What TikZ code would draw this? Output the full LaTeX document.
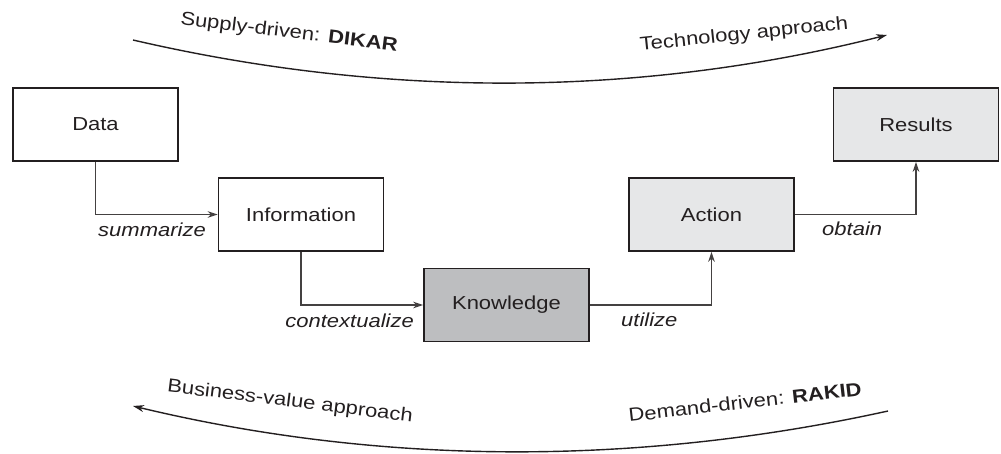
\documentclass[tikz,border=0pt]{standalone}
\usepackage{fontspec}
\setmainfont{Liberation Sans}[FakeStretch=1.17]
\usetikzlibrary{arrows.meta}
\definecolor{ink}{HTML}{231F20}
\definecolor{kgray}{HTML}{BDBEC0}
\definecolor{lgray}{HTML}{E6E7E8}
\tikzset{
  box/.style={draw=ink, line width=1.5pt, minimum width=165pt, minimum height=73pt, inner sep=0pt, text=ink, font=\fontsize{18.8}{22}\selectfont},
  conn/.style={draw=ink!85, line width=1.4pt, -{Stealth[length=10pt,width=6.5pt]}},
  lbl/.style={text=ink, inner sep=0pt, font=\fontsize{18.8}{22}\selectfont\itshape},
  arclbl/.style={text=ink, inner sep=0pt, font=\fontsize{18.8}{22}\selectfont},
  arc/.style={draw=ink, line width=1.4pt},
}
\begin{document}
\begin{tikzpicture}[x=1pt,y=-1pt]
\useasboundingbox (0,0) rectangle (1001,453);
% boxes
\node[box] (data) at (95.5,124.5) {Data};
\node[box] (info) at (301,214.5) {Information};
\node[box, fill=kgray] (know) at (506.5,305) {Knowledge};
\node[box, fill=lgray] (act) at (711.5,214.5) {Action};
\node[box, fill=lgray] (res) at (916,124.5) {Results};
% connectors
\draw[conn] (data.south) |- (info.west);
\draw[conn] (info.south) |- (know.west);
\draw[conn] (know.east) -| (act.south);
\draw[conn] (act.east) -| (res.south);
% connector labels
\node[lbl, anchor=east] (l1) at (206,230) {summarize};
\node[lbl, anchor=east] (l2) at (414,321) {contextualize};
\node[lbl, anchor=west] (l3) at (621,320) {utilize};
\node[lbl, anchor=west] (l4) at (822,229) {obtain};
% top arc
\coordinate (ta) at (133,40);
\coordinate (tb) at (887,35);
\draw[arc, -{Stealth[length=11pt,width=7pt]}] (ta) .. controls (383,98) and (637,98) .. (tb);
% bottom arc
\coordinate (ba) at (888,411);
\coordinate (bb) at (133,406);
\draw[arc, -{Stealth[length=11pt,width=7pt]}] (ba) .. controls (638,466) and (383,466) .. (bb);
% arc labels
\node[arclbl, rotate=-7] (sd) at (289,33) {Supply-driven: \textbf{DIKAR}};
\node[arclbl, rotate=6] (ta2) at (744,35) {Technology approach};
\node[arclbl, rotate=-7] (bv) at (290,402) {Business-value approach};
\node[arclbl, rotate=6.5] (dd) at (745,402) {Demand-driven: \textbf{RAKID}};
\end{tikzpicture}
\end{document}
